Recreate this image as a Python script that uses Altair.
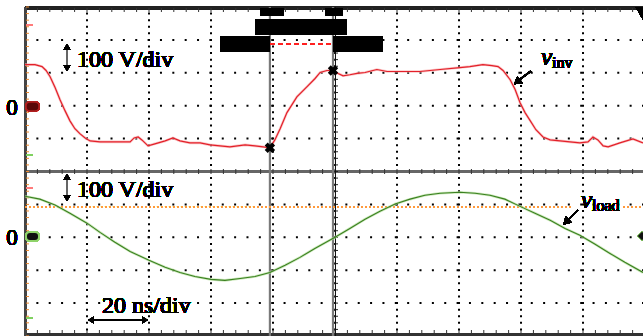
import altair as alt
import pandas as pd

# ---------------- data ----------------
# time in ns (20 ns/div), voltage in V (100 V/div)
inv_t = [0, 3.2, 5.5, 6.8, 8.1, 9.7, 11.3, 12.9, 14.5, 16.1, 17.7, 19.4, 21.0, 24.2, 27.4, 30.6,
         33.9, 35.2, 36.5, 37.7, 39.7, 41.9, 45.2, 47.7, 50.0, 53.2, 56.5, 59.7, 62.9, 66.1, 71.0,
         74.2, 76.8, 79.0, 80.6, 82.3, 84.5, 87.7, 91.0, 93.5, 95.2, 97.4, 99.4, 101.0, 102.6,
         104.8, 107.1, 109.7, 113.5, 116.8, 121.0, 127.4, 133.9, 140.3, 143.5, 147.7, 150.6, 152.6,
         154.2, 156.5, 158.1, 159.7, 161.3, 163.0, 164.8, 167.1, 169.4, 172.6, 175.8, 179.0, 181.6,
         183.2, 184.8, 186.5, 188.1, 191.9, 196.1, 199.35]
inv_v = [125, 125, 119, 107, 88, 55, 18, -15, -46, -70, -85, -98, -107, -110, -110, -110,
         -110, -98, -95, -104, -122, -116, -107, -98, -107, -113, -113, -119, -122, -125, -119,
         -122, -125, -128, -104, -70, -21, 27, 58, 82, 101, 107, 107, 98, 91,
         94, 98, 101, 110, 104, 104, 104, 110, 116, 119, 125, 122, 119,
         107, 79, 49, 9, -21, -46, -73, -95, -104, -107, -110, -113, -110,
         -95, -104, -122, -125, -113, -101, -113]

load_t = [0, 4.8, 9.7, 14.5, 20.0, 24.2, 29.0, 33.9, 40.0, 45.2, 50.0, 54.8, 60.0, 64.5, 69.4,
          74.2, 79.0, 83.9, 88.7, 93.5, 100.0, 104.8, 109.7, 114.5, 119.4, 124.2, 129.0, 133.9,
          140.3, 145.2, 150.0, 154.8, 159.7, 164.5, 169.4, 174.2, 179.0, 183.9, 188.7, 193.5, 199.35]
load_v = [125, 116, 98, 73, 43, 15, -15, -43, -70, -91, -107, -119, -128, -131, -125,
          -119, -107, -85, -61, -34, 0, 27, 55, 79, 101, 116, 128, 134,
          137, 134, 128, 116, 94, 73, 52, 27, 6, -21, -49, -76, -107]

cursor_t = [79.0, 99.35]
cursor_v = [-128, 107]

TOP_OFFSET = 200    # top trace zero sits 2 div above screen centre
BOT_OFFSET = -200   # bottom trace zero sits 2 div below screen centre

W, H = 618, 329
XMAX = 199.35
FONT = "Times New Roman, Liberation Serif, serif"

df_inv = pd.DataFrame({"t": inv_t, "v": inv_v})
df_load = pd.DataFrame({"t": load_t, "v": load_v})
df_cur = pd.DataFrame({"t": cursor_t, "v": cursor_v})

xs = alt.Scale(domain=[0, XMAX], nice=False, zero=False)
ys = alt.Scale(domain=[-500, 500], nice=False, zero=False)


def X(f="t"):
    return alt.X(f"{f}:Q", scale=xs, axis=None)


def Y(f="y"):
    return alt.Y(f"{f}:Q", scale=ys, axis=None)


layers = []

# dotted graticule
layers.append(
    alt.Chart(alt.sequence(20, 181, 20, as_="s")).mark_rule(
        color="black", strokeWidth=2, strokeDash=[2, 4.58], strokeDashOffset=1
    ).encode(x=X("s"), y=alt.value(0), y2=alt.value(H))
)
layers.append(
    alt.Chart(alt.sequence(-400, 401, 100, as_="s")).mark_rule(
        color="black", strokeWidth=2, strokeDash=[2, 10.36], strokeDashOffset=1
    ).encode(y=Y("s"), x=alt.value(0), x2=alt.value(W))
)

# centre lines with minor ticks
layers.append(alt.Chart(df_inv).mark_rule(color="#666", strokeWidth=2.2).encode(
    y=alt.value(164.5), x=alt.value(0), x2=alt.value(W)))
layers.append(alt.Chart(alt.sequence(0, 199, 4, as_="s")).mark_rule(color="#333", strokeWidth=1).encode(
    x=X("s"), y=alt.value(162), y2=alt.value(167)))
layers.append(alt.Chart(alt.sequence(-500, 501, 20, as_="s")).mark_rule(color="#222", strokeWidth=1).encode(
    y=Y("s"), x=alt.value(308), x2=alt.value(313)))
# borders
layers.append(alt.Chart(df_inv).mark_rule(color="#222", strokeWidth=2.5).encode(
    y=alt.value(1), x=alt.value(0), x2=alt.value(W)))
layers.append(alt.Chart(alt.sequence(0, 199, 4, as_="s")).mark_rule(color="#333", strokeWidth=1).encode(
    x=X("s"), y=alt.value(1), y2=alt.value(5)))
layers.append(alt.Chart(df_inv).mark_rule(color="#333", strokeWidth=2).encode(
    y=alt.value(327.5), x=alt.value(0), x2=alt.value(W)))
layers.append(alt.Chart(alt.sequence(0, 199, 4, as_="s")).mark_rule(color="#333", strokeWidth=1).encode(
    x=X("s"), y=alt.value(323), y2=alt.value(329)))
layers.append(alt.Chart(df_inv).mark_rule(color="#444", strokeWidth=1.5).encode(
    x=alt.value(0.5), y=alt.value(0), y2=alt.value(H)))
layers.append(alt.Chart(alt.sequence(-500, 501, 20, as_="s")).mark_rule(color="#f08a30", strokeWidth=1).encode(
    y=Y("s"), x=alt.value(1), x2=alt.value(4)))

# cursors
layers.append(alt.Chart(df_cur).mark_rule(color="#7a7a7a", strokeWidth=2.2).encode(
    x=X("t"), y=alt.value(0), y2=alt.value(H)))
layers.append(alt.Chart(df_inv).mark_rule(color="#111", strokeWidth=1).encode(
    x=alt.value(310.5), y=alt.value(0), y2=alt.value(H)))

# orange reference line in the lower panel
for a, b in [(0, 547), (598, 618)]:
    layers.append(alt.Chart(df_inv).mark_rule(color="#ff9a3c", strokeWidth=1.5, strokeDash=[2, 2]).encode(
        y=alt.value(199.7), x=alt.value(a), x2=alt.value(b)))

# traces
layers.append(alt.Chart(df_inv).transform_calculate(y=f"datum.v + {TOP_OFFSET}").mark_line(
    color="#f8b0b0", strokeWidth=2.6, opacity=0.7).encode(x=X(), y=Y()))
layers.append(alt.Chart(df_inv).transform_calculate(y=f"datum.v + {TOP_OFFSET}").mark_line(
    color="#e3202a", strokeWidth=1.2).encode(x=X(), y=Y()))
layers.append(alt.Chart(df_load).transform_calculate(y=f"datum.v + ({BOT_OFFSET})").mark_line(
    color="#b8e0a0", strokeWidth=2.6, opacity=0.7).encode(x=X(), y=Y()))
layers.append(alt.Chart(df_load).transform_calculate(y=f"datum.v + ({BOT_OFFSET})").mark_line(
    color="#3a8020", strokeWidth=1.1).encode(x=X(), y=Y()))

# cursor cross markers
layers.append(alt.Chart(df_cur).transform_calculate(y=f"datum.v + {TOP_OFFSET}").mark_point(
    shape="cross", angle=45, filled=True, color="black", size=110, opacity=1).encode(x=X(), y=Y()))

# header boxes
for x1, x2, y1, y2 in [(235, 259, 1, 9), (300, 318, 1, 9), (230, 322, 12, 28),
                       (195, 245, 29, 45), (308, 358, 29, 45)]:
    layers.append(alt.Chart(df_inv).mark_rect(color="black", cornerRadius=2).encode(
        x=alt.value(x1), x2=alt.value(x2), y=alt.value(y1), y2=alt.value(y2)))
layers.append(alt.Chart(df_inv).mark_rule(color="#ff2020", strokeWidth=1.2, strokeDash=[5, 3]).encode(
    y=alt.value(37), x=alt.value(245), x2=alt.value(308)))

# left-side channel markers
layers.append(alt.Chart(df_inv).mark_rect(fill="#5a0808", stroke="#b02020", strokeWidth=1.5, cornerRadius=4).encode(
    x=alt.value(1), x2=alt.value(14), y=alt.value(95), y2=alt.value(104)))
layers.append(alt.Chart(df_inv).mark_rect(fill="#111", stroke="#8fd36a", strokeWidth=2, cornerRadius=4).encode(
    x=alt.value(1), x2=alt.value(14), y=alt.value(225), y2=alt.value(234)))
for yy, col in [(18, "#ff7b7b"), (148, "#80d060"), (181, "#ff7b7b"), (311, "#80d060")]:
    layers.append(alt.Chart(df_inv).mark_rule(color=col, strokeWidth=1.5).encode(
        y=alt.value(yy), x=alt.value(1), x2=alt.value(8)))

# right-side markers
layers.append(alt.Chart(df_inv).mark_point(shape="triangle-down", filled=True, color="black", size=420,
                                           opacity=1).encode(x=alt.value(621), y=alt.value(9)))
layers.append(alt.Chart(df_inv).mark_point(shape="diamond", filled=True, color="#111", stroke="#8fd36a",
                                           strokeWidth=1, size=90, opacity=1).encode(x=alt.value(617), y=alt.value(229)))

# texts
def txt(s, x, y, size=24, style="normal", align="left", baseline="alphabetic"):
    return alt.Chart(df_inv).mark_text(text=s, font=FONT, fontSize=size, fontStyle=style, fontWeight="normal",
                                       color="black", align=align, baseline=baseline).encode(
        x=alt.value(x), y=alt.value(y))

layers.append(txt("0", -13, 108, size=23, align="center"))
layers.append(txt("0", -13, 238, size=23, align="center"))
layers.append(txt("100 V/div", 52, 60))
layers.append(txt("100 V/div", 52, 190))
layers.append(txt("20 ns/div", 77, 306))
layers.append(txt("v", 516, 58, size=25, style="italic"))
layers.append(txt("inv", 527, 61, size=16))
layers.append(txt("v", 556, 201, size=25, style="italic"))
layers.append(txt("load", 567, 204, size=16))

# arrows
def seg(x1, y1, x2, y2, col="black", w=1.5):
    return alt.Chart(df_inv).mark_rule(color=col, strokeWidth=w).encode(
        x=alt.value(x1), y=alt.value(y1), x2=alt.value(x2), y2=alt.value(y2))


def head(x, y, ang, size=45):
    return alt.Chart(df_inv).mark_point(shape="triangle-up", filled=True, color="black", size=size,
                                        angle=ang, opacity=1).encode(x=alt.value(x), y=alt.value(y))

# vertical double arrows
layers += [seg(42, 39, 42, 62, col="#666"), head(42, 40, 0), head(42, 61, 180)]
layers += [seg(42, 169, 42, 192, col="#666"), head(42, 170, 0), head(42, 191, 180)]
# horizontal double arrow
layers += [seg(64, 313, 122, 313), head(66, 313, 270), head(120, 313, 90)]
# label arrows
layers += [seg(506, 64, 494, 73), head(492, 75, 232.6, size=75)]
layers += [seg(553, 203, 543, 213), head(541, 215, 225, size=75)]

chart = alt.layer(*layers).properties(
    width=W, height=H,
    padding={"left": 25, "top": 7, "right": 0, "bottom": 0},
    autosize=alt.AutoSizeParams(type="none"),
    background="white",
).configure_view(stroke=None)

chart.save("out.html", embed_options={"renderer": "svg", "actions": False})
